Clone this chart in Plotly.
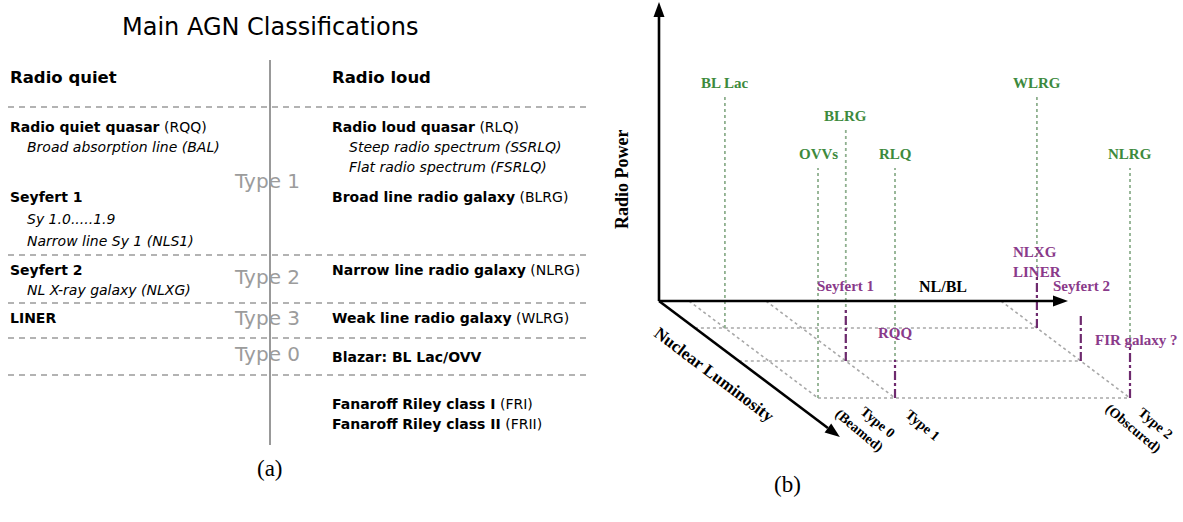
import plotly.graph_objects as go

W, H = 1183, 522

# ---------------- panel (a): classification table ----------------
TITLE_A = "Main AGN Classifications"
HEADS = ["Radio quiet", "Radio loud"]

quiet_names = ["Radio quiet quasar", "Broad absorption line (BAL)", "Seyfert 1",
               "Sy 1.0.....1.9", "Narrow line Sy 1 (NLS1)", "Seyfert 2",
               "NL X-ray galaxy (NLXG)", "LINER"]
quiet_abbr = ["(RQQ)", "", "", "", "", "", "", ""]
quiet_sub = [False, True, False, True, True, False, True, False]

loud_names = ["Radio loud quasar", "Steep radio spectrum (SSRLQ)",
              "Flat radio spectrum (FSRLQ)", "Broad line radio galaxy",
              "Narrow line radio galaxy", "Weak line radio galaxy",
              "Blazar: BL Lac/OVV", "Fanaroff Riley class I", "Fanaroff Riley class II"]
loud_abbr = ["(RLQ)", "", "", "(BLRG)", "(NLRG)", "(WLRG)", "", "(FRI)", "(FRII)"]
loud_sub = [False, True, True, False, False, False, False, False, False]

band_labels = ["Type 1", "Type 2", "Type 3", "Type 0"]

# ---------------- panel (b): unified-scheme diagram ----------------
type_names = ["Type 0<br>(Beamed)", "Type 1", "Type 2<br>(Obscured)"]
type_pos = [30, 107, 342]          # position of each type along the NL/BL axis
depth_rows = [27, 60, 97]          # nuclear-luminosity levels (depth into the floor)

loud_cls = ["BL Lac", "OVVs", "BLRG", "RLQ", "WLRG", "NLRG"]
loud_type = [0, 0, 1, 1, 2, 2]
loud_depth = [0, 2, 1, 2, 0, 2]
loud_power = [231, 230, 231, 230, 231, 230]

quiet_cls = ["Seyfert 1", "RQQ", "NLXG<br>LINER", "Seyfert 2", "FIR galaxy ?"]
quiet_type = [1, 1, 2, 2, 2]
quiet_depth = [1, 2, 0, 1, 2]
quiet_power = [52, 38, 51, 48, 51]

# ---------------- layout constants ----------------
SANS = "DejaVu Sans"
SERIF = "Liberation Serif"
GREEN = "#3d8a3d"
GREEN_DOT = "#8fb08f"
PURPLE = "#8a3a8a"
PURPLE_DASH = "#6e2a6e"
GRID = "#a8a8a8"

quiet_rows = [127, 147, 197, 219, 241, 270, 290, 318]
loud_rows = [127, 147, 167, 197, 270, 318, 357, 404, 424]
band_rows = [181, 277, 318, 354]
rule_rows = [107, 255, 303, 338, 375]

X0, Y0 = 659, 301          # origin of the 3-D axes
SLANT = 1.33               # horizontal shift per pixel of depth
TOP = 2                    # tip of radio-power axis
RIGHT = 1068               # tip of NL/BL axis
DEPTH_END = 136            # depth reached by nuclear-luminosity arrow


def proj(u, d, p=0.0):
    """Project (NL/BL, depth, radio power) into page pixels."""
    return X0 + u + d * SLANT, Y0 + d - p


fig = go.Figure()
ann = []
shapes = []


def text(x, y, s, size, color="black", family=SANS, xanchor="center",
         angle=0, align="center"):
    ann.append(dict(x=x, y=y, text=s, showarrow=False, xref="x", yref="y",
                    font=dict(size=size, color=color, family=family),
                    xanchor=xanchor, yanchor="middle", textangle=angle, align=align))


def seg(xs, ys, color, width, dash="solid"):
    fig.add_trace(go.Scatter(x=xs, y=ys, mode="lines", hoverinfo="skip",
                             line=dict(color=color, width=width, dash=dash)))


def arrow(x1, y1, x2, y2, width=2.6, head=15, half=5.5):
    dx, dy = x2 - x1, y2 - y1
    n = (dx * dx + dy * dy) ** 0.5
    ux, uy = dx / n, dy / n
    bx, by = x2 - ux * head, y2 - uy * head
    seg([x1, bx], [y1, by], "black", width)
    px, py = -uy * half, ux * half
    shapes.append(dict(type="path", xref="x", yref="y", line=dict(width=0),
                       fillcolor="black",
                       path=f"M {x2},{y2} L {bx+px},{by+py} L {bx-px},{by-py} Z"))


# ---- panel (a) ----
text(270, 27, TITLE_A, 24)
shapes.append(dict(type="line", xref="x", yref="y", x0=270, x1=270, y0=60, y1=445,
                   line=dict(color="#555", width=1.2)))
text(8, 77, f"<b>{HEADS[0]}</b>", 16.5, xanchor="left")
text(330, 77, f"<b>{HEADS[1]}</b>", 16.5, xanchor="left")
for ry in rule_rows:
    shapes.append(dict(type="line", xref="x", yref="y", x0=8, x1=586, y0=ry, y1=ry,
                       line=dict(color="#9a9a9a", width=1.6, dash="6px,5px")))


def entry(x, y, name, abbr, sub):
    if sub:
        text(x + 17, y, f"<i>{name}</i>", 14, xanchor="left")
    else:
        s = f"<b>{name}</b>" + (f" {abbr}" if abbr else "")
        text(x, y, s, 14, xanchor="left")


for nm, ab, sb, ry in zip(quiet_names, quiet_abbr, quiet_sub, quiet_rows):
    entry(8, ry, nm, ab, sb)
for nm, ab, sb, ry in zip(loud_names, loud_abbr, loud_sub, loud_rows):
    entry(330, ry, nm, ab, sb)
for lb, ry in zip(band_labels, band_rows):
    text(267, ry, lb, 20, color="#9c9c9c")
text(270, 468, "(a)", 23, family=SERIF)

# ---- panel (b): floor grid ----
for u in type_pos:
    (xa, ya), (xb, yb) = proj(u, 0), proj(u, depth_rows[-1])
    seg([xa, xb], [ya, yb], GRID, 1.6, "dot")
row_start = [0, 0, type_pos[0]]
for d, u0 in zip(depth_rows, row_start):
    (xa, ya), (xb, yb) = proj(u0, d), proj(type_pos[-1], d)
    seg([xa, xb], [ya, yb], GRID, 1.6, "dot")

# radio-loud classes: green drop lines to the floor
for nm, t, d, p in zip(loud_cls, loud_type, loud_depth, loud_power):
    (xa, ya) = proj(type_pos[t], depth_rows[d], 0)
    (xb, yb) = proj(type_pos[t], depth_rows[d], p)
    seg([xa, xb], [ya, yb], GREEN_DOT, 1.8, "dot")
    text(xb, yb - 14, f"<b>{nm}</b>", 15, color=GREEN, family=SERIF)

# radio-quiet classes: short purple dash-dot stems
quiet_label_style = [
    dict(dx=0, dy=-23, xanchor="center"),
    dict(dx=0, dy=-27, xanchor="center"),
    dict(dx=0, dy=-15, xanchor="center"),
    dict(dx=1, dy=-27, xanchor="center"),
    dict(dx=-37, dy=-7, xanchor="left"),
]
for nm, t, d, p, st in zip(quiet_cls, quiet_type, quiet_depth, quiet_power,
                           quiet_label_style):
    (xa, ya) = proj(type_pos[t], depth_rows[d], 0)
    (xb, yb) = proj(type_pos[t], depth_rows[d], p)
    seg([xa, xb], [ya, yb], PURPLE_DASH, 2.2, "dashdot")
    text(xb + st["dx"], yb + st["dy"], f"<b>{nm}</b>", 15, color=PURPLE,
         family=SERIF, xanchor=st["xanchor"], align="left")

# type labels under the end of each orientation line
type_label_off = [(47, 26), (28, 27), (9, 24)]
for nm, u, (ox, oy) in zip(type_names, type_pos, type_label_off):
    xe, ye = proj(u, depth_rows[-1])
    text(xe + ox, ye + oy, f"<b>{nm}</b>", 14, family=SERIF, angle=40, align="right")

# axes
arrow(X0, Y0, X0, TOP)
arrow(X0, Y0, RIGHT, Y0)
xe, ye = proj(0, DEPTH_END)
arrow(X0, Y0, xe, ye)
text(622, 180, "<b>Radio Power</b>", 18, family=SERIF, angle=-90)
text(943, 286, "<b>NL/BL</b>", 16, family=SERIF)
text(714, 374, "<b>Nuclear Luminosity</b>", 17, family=SERIF, angle=37)
text(787, 484, "(b)", 23, family=SERIF)

fig.update_layout(
    width=W, height=H, margin=dict(l=0, r=0, t=0, b=0),
    paper_bgcolor="white", plot_bgcolor="white", showlegend=False,
    xaxis=dict(range=[0, W], visible=False, fixedrange=True),
    yaxis=dict(range=[H, 0], visible=False, fixedrange=True),
    annotations=ann, shapes=shapes,
)
fig.write_html("out.html", config={"displayModeBar": False})
